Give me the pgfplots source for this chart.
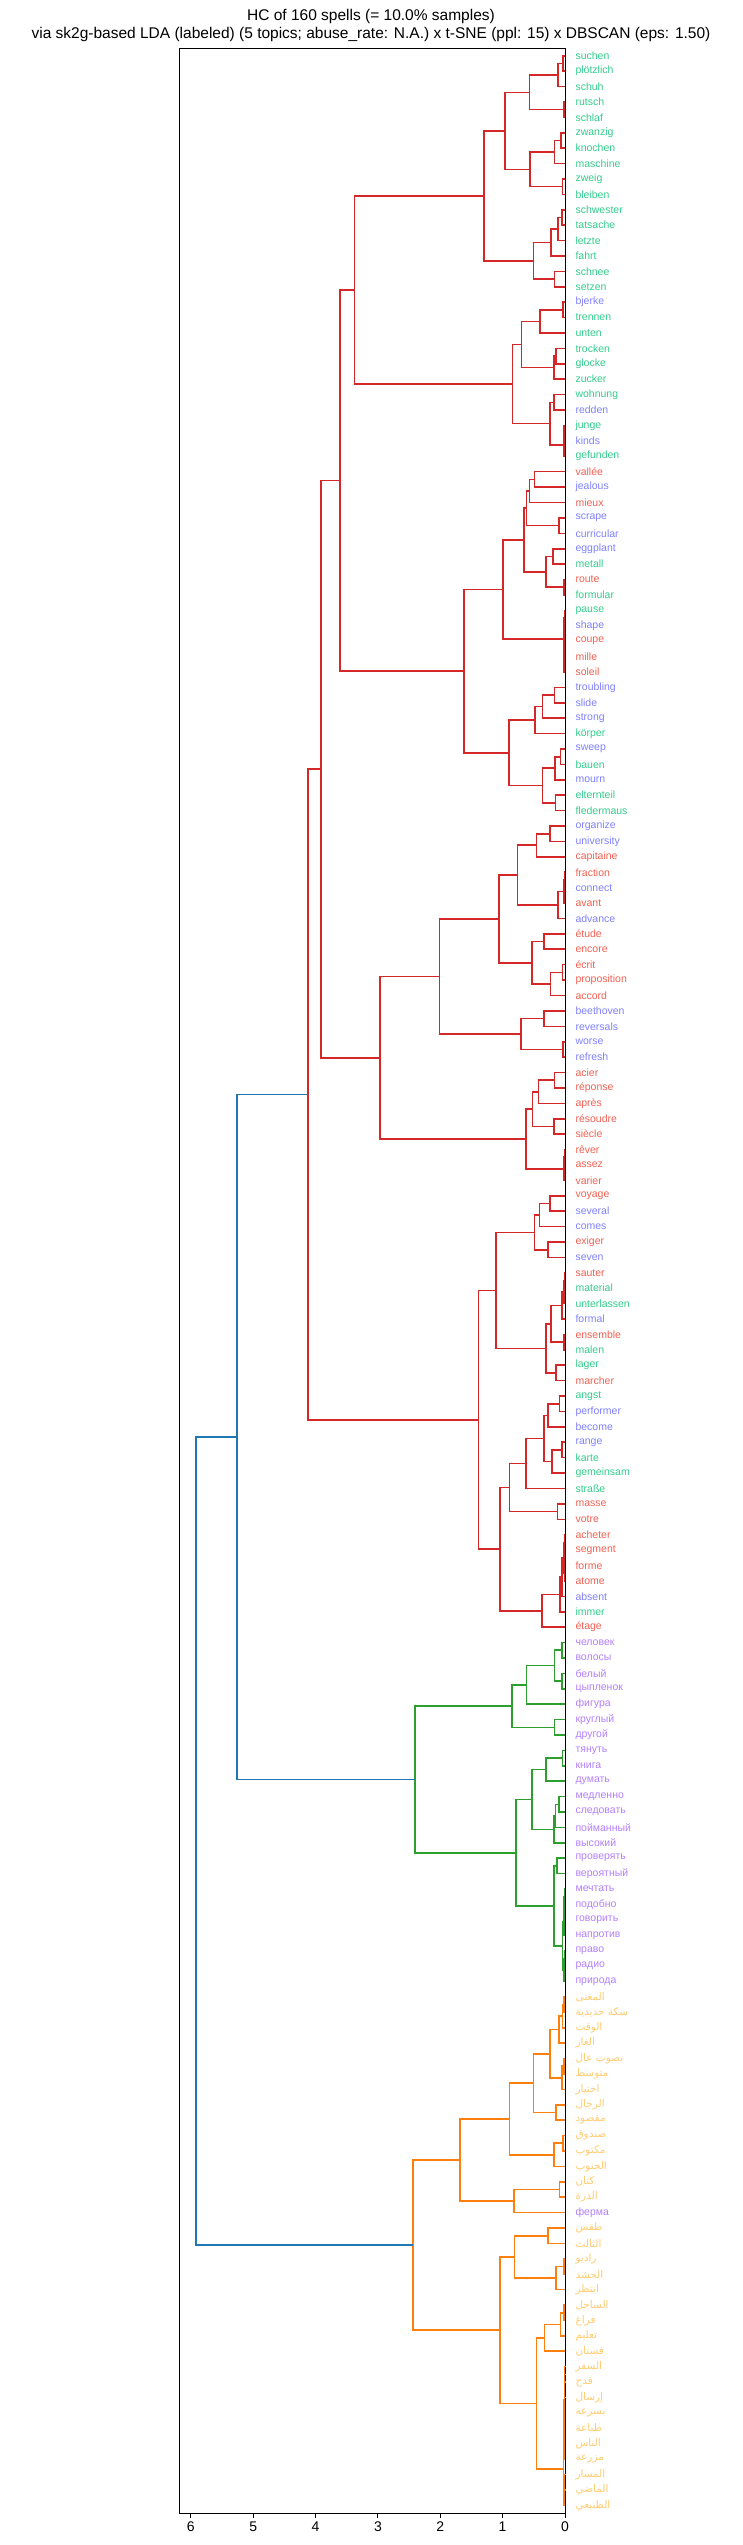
\documentclass[border=0pt]{standalone}
\usepackage{pgfplots}
\pgfplotsset{compat=1.18}
\usepackage{fontspec}
\setmainfont{Liberation Sans}
\newfontfamily\arabicfont[Script=Arabic]{DejaVu Sans}
\TeXXeTstate=1
\definecolor{cRed}{HTML}{D62728}
\definecolor{cGreen}{HTML}{2CA02C}
\definecolor{cOrange}{HTML}{FF7F0E}
\definecolor{cBlue}{HTML}{1F77B4}
\definecolor{deC}{HTML}{33CC8C}
\definecolor{enC}{HTML}{7F80FF}
\definecolor{frC}{HTML}{F26052}
\definecolor{ruC}{HTML}{B27FFF}
\definecolor{arC}{HTML}{FFCC70}
\newcommand{\D}[1]{\textcolor{deC}{#1}}
\newcommand{\E}[1]{\textcolor{enC}{#1}}
\newcommand{\F}[1]{\textcolor{frC}{#1}}
\newcommand{\R}[1]{\textcolor{ruC}{#1}}
\newcommand{\A}[1]{\textcolor{arC}{\arabicfont\beginR #1\endR}}
\begin{document}
\begin{tikzpicture}
\useasboundingbox (0,0) rectangle (742pt,2545pt);
\node[font=\fontsize{15.5}{16}\selectfont] at (371pt,2528pt) {HC of 160 spells (= 10.0\% samples)};
\node[font=\fontsize{15.5}{16}\selectfont] at (371pt,2510pt) {via sk2g-based LDA (labeled) (5 topics; abuse\_rate: N.A.) x t-SNE (ppl: 15) x DBSCAN (eps: 1.50)};
\begin{axis}[
  at={(179pt,32pt)}, anchor=south west,
  scale only axis, width=386pt, height=2465pt,
  xmin=0, xmax=6.19, x dir=reverse,
  ymin=-0.5, ymax=159.5, y dir=reverse,
  axis line style={line width=0.9pt},
  xtick={0,1,2,3,4,5,6},
  tick align=outside,
  xtick pos=bottom,
  major tick length=5pt,
  xtick style={line width=0.9pt, black},
  /pgf/number format/assume math mode=true,
  xticklabel style={font=\fontsize{14}{14}\selectfont},
  ytick={0,1,...,159},
  ytick style={draw=none},
  yticklabel pos=right,
  yticklabel style={font=\fontsize{10.5}{10.5}\selectfont, xshift=2pt},
  yticklabels={\D{suchen},\D{plötzlich},\D{schuh},\D{rutsch},\D{schlaf},\D{zwanzig},\D{knochen},\D{maschine},\D{zweig},\D{bleiben},
\D{schwester},\D{tatsache},\D{letzte},\D{fahrt},\D{schnee},\D{setzen},\E{bjerke},\D{trennen},\D{unten},\D{trocken},
\D{glocke},\D{zucker},\D{wohnung},\E{redden},\D{junge},\E{kinds},\D{gefunden},\F{vallée},\E{jealous},\F{mieux},
\E{scrape},\E{curricular},\E{eggplant},\D{metall},\F{route},\D{formular},\D{pause},\E{shape},\F{coupe},\F{mille},
\F{soleil},\E{troubling},\E{slide},\E{strong},\D{körper},\E{sweep},\D{bauen},\E{mourn},\D{elternteil},\D{fledermaus},
\E{organize},\E{university},\F{capitaine},\F{fraction},\E{connect},\F{avant},\E{advance},\F{étude},\F{encore},\F{écrit},
\F{proposition},\F{accord},\E{beethoven},\E{reversals},\E{worse},\E{refresh},\F{acier},\F{réponse},\F{après},\F{résoudre},
\F{siècle},\F{rêver},\F{assez},\F{varier},\F{voyage},\E{several},\E{comes},\F{exiger},\E{seven},\F{sauter},
\D{material},\D{unterlassen},\E{formal},\F{ensemble},\D{malen},\D{lager},\F{marcher},\D{angst},\E{performer},\E{become},
\E{range},\D{karte},\D{gemeinsam},\D{straße},\F{masse},\F{votre},\F{acheter},\F{segment},\F{forme},\F{atome},
\E{absent},\D{immer},\F{étage},\R{человек},\R{волосы},\R{белый},\R{цыпленок},\R{фигура},\R{круглый},\R{другой},
\R{тянуть},\R{книга},\R{думать},\R{медленно},\R{следовать},\R{пойманный},\R{высокий},\R{проверять},\R{вероятный},\R{мечтать},
\R{подобно},\R{говорить},\R{напротив},\R{право},\R{радио},\R{природа},\A{المعنى},{\textcolor{arC}{\arabicfont\beginR سكة حديدية\endR}},\A{الوقت},\A{الغاز},
{\textcolor{arC}{\arabicfont\beginR بصوت عال\endR}},\A{متوسط},\A{اختيار},\A{الرجال},\A{مقصود},\A{صندوق},\A{مكتوب},\A{الجنوب},\A{كتان},\A{الذرة},
\R{ферма},\A{طقس},\A{الثالث},\A{راديو},\A{الحشد},\A{انتظر},\A{الساحل},\A{فراغ},\A{تعليم},\A{فستان},
\A{السفر},\A{قدح},\A{إرسال},\A{بسرعة},\A{طباعة},\A{الناس},\A{مزرعة},\A{المسار},\A{الماضي},\A{الطبيعي}},
  clip=false,
  unbounded coords=jump,
]
% red cluster
\addplot[cRed, line width=1.6pt] coordinates {
(0,0) (0.03,0) (0.03,1) (0,1) (nan,nan)
(0.03,0.5) (0.115,0.5) (0.115,2) (0,2) (nan,nan)
(0,3) (0.02,3) (0.02,4) (0,4) (nan,nan)
(0.115,1.25) (0.57,1.25) (0.57,3.5) (0.02,3.5) (nan,nan)
(0,5) (0.06,5) (0.06,6) (0,6) (nan,nan)
(0.06,5.5) (0.17,5.5) (0.17,7) (0,7) (nan,nan)
(0,8) (0.04,8) (0.04,9) (0,9) (nan,nan)
(0.17,6.25) (0.565,6.25) (0.565,8.5) (0.04,8.5) (nan,nan)
(0.57,2.375) (0.96,2.375) (0.96,7.375) (0.565,7.375) (nan,nan)
(0,10) (0.05,10) (0.05,11) (0,11) (nan,nan)
(0.05,10.5) (0.115,10.5) (0.115,12) (0,12) (nan,nan)
(0.115,11.25) (0.22,11.25) (0.22,13) (0,13) (nan,nan)
(0,14) (0.17,14) (0.17,15) (0,15) (nan,nan)
(0.22,12.125) (0.505,12.125) (0.505,14.5) (0.17,14.5) (nan,nan)
(0.96,4.875) (1.30,4.875) (1.30,13.3125) (0.505,13.3125) (nan,nan)
(0,16) (0.03,16) (0.03,17) (0,17) (nan,nan)
(0.03,16.5) (0.40,16.5) (0.40,18) (0,18) (nan,nan)
(0,19) (0.14,19) (0.14,20) (0,20) (nan,nan)
(0.14,19.5) (0.18,19.5) (0.18,21) (0,21) (nan,nan)
(0.40,17.25) (0.70,17.25) (0.70,20.25) (0.18,20.25) (nan,nan)
(0,22) (0.18,22) (0.18,23) (0,23) (nan,nan)
(0,24) (0.015,24) (0.015,25) (0,25) (nan,nan)
(0.015,24.5) (0.02,24.5) (0.02,26) (0,26) (nan,nan)
(0.18,22.5) (0.24,22.5) (0.24,25.25) (0.02,25.25) (nan,nan)
(0.70,18.75) (0.84,18.75) (0.84,23.875) (0.24,23.875) (nan,nan)
(1.30,9.094) (3.375,9.094) (3.375,21.3125) (0.84,21.3125) (nan,nan)
(0,27) (0.49,27) (0.49,28) (0,28) (nan,nan)
(0.49,27.5) (0.57,27.5) (0.57,29) (0,29) (nan,nan)
(0,30) (0.10,30) (0.10,31) (0,31) (nan,nan)
(0.57,28.25) (0.62,28.25) (0.62,30.5) (0.10,30.5) (nan,nan)
(0,32) (0.195,32) (0.195,33) (0,33) (nan,nan)
(0,34) (0.02,34) (0.02,35) (0,35) (nan,nan)
(0.195,32.5) (0.30,32.5) (0.30,34.5) (0.02,34.5) (nan,nan)
(0.62,29.375) (0.66,29.375) (0.66,33.5) (0.30,33.5) (nan,nan)
(0,36) (0.01,36) (0.01,37) (0,37) (nan,nan)
(0,38) (0.01,38) (0.01,39) (0,39) (nan,nan)
(0.01,38.5) (0.015,38.5) (0.015,40) (0,40) (nan,nan)
(0.01,36.5) (0.02,36.5) (0.02,39.25) (0.015,39.25) (nan,nan)
(0.66,31.4375) (0.99,31.4375) (0.99,37.875) (0.02,37.875) (nan,nan)
(0,41) (0.17,41) (0.17,42) (0,42) (nan,nan)
(0.17,41.5) (0.36,41.5) (0.36,43) (0,43) (nan,nan)
(0.36,42.25) (0.48,42.25) (0.48,44) (0,44) (nan,nan)
(0,45) (0.075,45) (0.075,46) (0,46) (nan,nan)
(0.075,45.5) (0.16,45.5) (0.16,47) (0,47) (nan,nan)
(0,48) (0.155,48) (0.155,49) (0,49) (nan,nan)
(0.16,46.25) (0.36,46.25) (0.36,48.5) (0.155,48.5) (nan,nan)
(0.48,43.125) (0.90,43.125) (0.90,47.375) (0.36,47.375) (nan,nan)
(0.99,34.656) (1.62,34.656) (1.62,45.25) (0.90,45.25) (nan,nan)
(3.375,15.203) (3.61,15.203) (3.61,39.953) (1.62,39.953) (nan,nan)
(0,50) (0.24,50) (0.24,51) (0,51) (nan,nan)
(0.24,50.5) (0.46,50.5) (0.46,52) (0,52) (nan,nan)
(0,53) (0.01,53) (0.01,54) (0,54) (nan,nan)
(0.01,53.5) (0.02,53.5) (0.02,55) (0,55) (nan,nan)
(0.02,54.25) (0.115,54.25) (0.115,56) (0,56) (nan,nan)
(0.46,51.25) (0.76,51.25) (0.76,55.125) (0.115,55.125) (nan,nan)
(0,57) (0.34,57) (0.34,58) (0,58) (nan,nan)
(0,59) (0.04,59) (0.04,60) (0,60) (nan,nan)
(0.04,59.5) (0.235,59.5) (0.235,61) (0,61) (nan,nan)
(0.34,57.5) (0.53,57.5) (0.53,60.25) (0.235,60.25) (nan,nan)
(0.76,53.1875) (1.06,53.1875) (1.06,58.875) (0.53,58.875) (nan,nan)
(0,62) (0.34,62) (0.34,63) (0,63) (nan,nan)
(0,64) (0.03,64) (0.03,65) (0,65) (nan,nan)
(0.34,62.5) (0.71,62.5) (0.71,64.5) (0.03,64.5) (nan,nan)
(1.06,56.031) (2.015,56.031) (2.015,63.5) (0.71,63.5) (nan,nan)
(0,66) (0.17,66) (0.17,67) (0,67) (nan,nan)
(0.17,66.5) (0.425,66.5) (0.425,68) (0,68) (nan,nan)
(0,69) (0.18,69) (0.18,70) (0,70) (nan,nan)
(0.425,67.25) (0.52,67.25) (0.52,69.5) (0.18,69.5) (nan,nan)
(0,71) (0.01,71) (0.01,72) (0,72) (nan,nan)
(0.01,71.5) (0.02,71.5) (0.02,73) (0,73) (nan,nan)
(0.52,68.375) (0.63,68.375) (0.63,72.25) (0.02,72.25) (nan,nan)
(2.015,59.766) (2.97,59.766) (2.97,70.3125) (0.63,70.3125) (nan,nan)
(3.61,27.578) (3.915,27.578) (3.915,65.039) (2.97,65.039) (nan,nan)
(0,74) (0.24,74) (0.24,75) (0,75) (nan,nan)
(0.24,74.5) (0.41,74.5) (0.41,76) (0,76) (nan,nan)
(0,77) (0.27,77) (0.27,78) (0,78) (nan,nan)
(0.41,75.25) (0.49,75.25) (0.49,77.5) (0.27,77.5) (nan,nan)
(0,79) (0.01,79) (0.01,80) (0,80) (nan,nan)
(0.01,79.5) (0.02,79.5) (0.02,81) (0,81) (nan,nan)
(0.02,80.25) (0.05,80.25) (0.05,82) (0,82) (nan,nan)
(0,83) (0.02,83) (0.02,84) (0,84) (nan,nan)
(0.05,81.125) (0.22,81.125) (0.22,83.5) (0.02,83.5) (nan,nan)
(0,85) (0.14,85) (0.14,86) (0,86) (nan,nan)
(0.22,82.3125) (0.30,82.3125) (0.30,85.5) (0.14,85.5) (nan,nan)
(0.49,76.375) (1.11,76.375) (1.11,83.906) (0.30,83.906) (nan,nan)
(0,87) (0.09,87) (0.09,88) (0,88) (nan,nan)
(0.09,87.5) (0.275,87.5) (0.275,89) (0,89) (nan,nan)
(0,90) (0.05,90) (0.05,91) (0,91) (nan,nan)
(0.05,90.5) (0.21,90.5) (0.21,92) (0,92) (nan,nan)
(0.275,88.25) (0.34,88.25) (0.34,91.25) (0.21,91.25) (nan,nan)
(0.34,89.75) (0.63,89.75) (0.63,93) (0,93) (nan,nan)
(0,94) (0.12,94) (0.12,95) (0,95) (nan,nan)
(0.63,91.375) (0.89,91.375) (0.89,94.5) (0.12,94.5) (nan,nan)
(0,96) (0.01,96) (0.01,97) (0,97) (nan,nan)
(0,98) (0.01,98) (0.01,99) (0,99) (nan,nan)
(0.01,96.5) (0.02,96.5) (0.02,98.5) (0.01,98.5) (nan,nan)
(0.02,97.5) (0.05,97.5) (0.05,100) (0,100) (nan,nan)
(0.05,98.75) (0.08,98.75) (0.08,101) (0,101) (nan,nan)
(0.08,99.875) (0.37,99.875) (0.37,102) (0,102) (nan,nan)
(0.89,92.9375) (1.04,92.9375) (1.04,100.9375) (0.37,100.9375) (nan,nan)
(1.11,80.14) (1.39,80.14) (1.39,96.9375) (1.04,96.9375) (nan,nan)
(3.915,46.309) (4.12,46.309) (4.12,88.539) (1.39,88.539)
};
% green cluster
\addplot[cGreen, line width=1.6pt] coordinates {
(0,103) (0.05,103) (0.05,104) (0,104) (nan,nan)
(0,105) (0.05,105) (0.05,106) (0,106) (nan,nan)
(0.05,103.5) (0.17,103.5) (0.17,105.5) (0.05,105.5) (nan,nan)
(0.17,104.5) (0.62,104.5) (0.62,107) (0,107) (nan,nan)
(0,108) (0.17,108) (0.17,109) (0,109) (nan,nan)
(0.62,105.75) (0.85,105.75) (0.85,108.5) (0.17,108.5) (nan,nan)
(0,110) (0.04,110) (0.04,111) (0,111) (nan,nan)
(0.04,110.5) (0.30,110.5) (0.30,112) (0,112) (nan,nan)
(0,113) (0.10,113) (0.10,114) (0,114) (nan,nan)
(0.10,113.5) (0.155,113.5) (0.155,115) (0,115) (nan,nan)
(0.155,114.25) (0.18,114.25) (0.18,116) (0,116) (nan,nan)
(0.30,111.25) (0.53,111.25) (0.53,115.125) (0.18,115.125) (nan,nan)
(0,117) (0.13,117) (0.13,118) (0,118) (nan,nan)
(0,119) (0.01,119) (0.01,120) (0,120) (nan,nan)
(0.01,119.5) (0.015,119.5) (0.015,121) (0,121) (nan,nan)
(0.015,120.25) (0.02,120.25) (0.02,122) (0,122) (nan,nan)
(0,123) (0.01,123) (0.01,124) (0,124) (nan,nan)
(0.01,123.5) (0.015,123.5) (0.015,125) (0,125) (nan,nan)
(0.02,121.125) (0.04,121.125) (0.04,124.25) (0.015,124.25) (nan,nan)
(0.13,117.5) (0.18,117.5) (0.18,122.6875) (0.04,122.6875) (nan,nan)
(0.53,113.1875) (0.79,113.1875) (0.79,120.094) (0.18,120.094) (nan,nan)
(0.85,107.125) (2.41,107.125) (2.41,116.64) (0.79,116.64)
};
% orange cluster
\addplot[cOrange, line width=1.6pt] coordinates {
(0,126) (0.02,126) (0.02,127) (0,127) (nan,nan)
(0.02,126.5) (0.04,126.5) (0.04,128) (0,128) (nan,nan)
(0.04,127.25) (0.10,127.25) (0.10,129) (0,129) (nan,nan)
(0,130) (0.02,130) (0.02,131) (0,131) (nan,nan)
(0.02,130.5) (0.05,130.5) (0.05,132) (0,132) (nan,nan)
(0.10,128.125) (0.24,128.125) (0.24,131.25) (0.05,131.25) (nan,nan)
(0,133) (0.14,133) (0.14,134) (0,134) (nan,nan)
(0.24,129.6875) (0.505,129.6875) (0.505,133.5) (0.14,133.5) (nan,nan)
(0,135) (0.03,135) (0.03,136) (0,136) (nan,nan)
(0.03,135.5) (0.18,135.5) (0.18,137) (0,137) (nan,nan)
(0.505,131.594) (0.89,131.594) (0.89,136.25) (0.18,136.25) (nan,nan)
(0,138) (0.09,138) (0.09,139) (0,139) (nan,nan)
(0.09,138.5) (0.82,138.5) (0.82,140) (0,140) (nan,nan)
(0.89,133.922) (1.68,133.922) (1.68,139.25) (0.82,139.25) (nan,nan)
(0,141) (0.275,141) (0.275,142) (0,142) (nan,nan)
(0,143) (0.02,143) (0.02,144) (0,144) (nan,nan)
(0.02,143.5) (0.14,143.5) (0.14,145) (0,145) (nan,nan)
(0.275,141.5) (0.81,141.5) (0.81,144.25) (0.14,144.25) (nan,nan)
(0,146) (0.02,146) (0.02,147) (0,147) (nan,nan)
(0.02,146.5) (0.075,146.5) (0.075,148) (0,148) (nan,nan)
(0.075,147.25) (0.33,147.25) (0.33,149) (0,149) (nan,nan)
(0,150) (0.005,150) (0.005,151) (0,151) (nan,nan)
(0.005,150.5) (0.008,150.5) (0.008,152) (0,152) (nan,nan)
(0.008,151.25) (0.01,151.25) (0.01,153) (0,153) (nan,nan)
(0.01,152.125) (0.012,152.125) (0.012,154) (0,154) (nan,nan)
(0.012,153.0625) (0.015,153.0625) (0.015,155) (0,155) (nan,nan)
(0.015,154.031) (0.018,154.031) (0.018,156) (0,156) (nan,nan)
(0,157) (0.008,157) (0.008,158) (0,158) (nan,nan)
(0.008,157.5) (0.012,157.5) (0.012,159) (0,159) (nan,nan)
(0.018,155.016) (0.025,155.016) (0.025,158.25) (0.012,158.25) (nan,nan)
(0.33,148.125) (0.46,148.125) (0.46,156.633) (0.025,156.633) (nan,nan)
(0.81,142.875) (1.04,142.875) (1.04,152.379) (0.46,152.379) (nan,nan)
(1.68,136.586) (2.44,136.586) (2.44,147.627) (1.04,147.627)
};
% top links
\addplot[cBlue, line width=1.6pt] coordinates {
(4.12,67.424) (5.26,67.424) (5.26,111.883) (2.41,111.883) (nan,nan)
(5.26,89.654) (5.92,89.654) (5.92,142.107) (2.44,142.107)
};
\end{axis}
\end{tikzpicture}
\end{document}
